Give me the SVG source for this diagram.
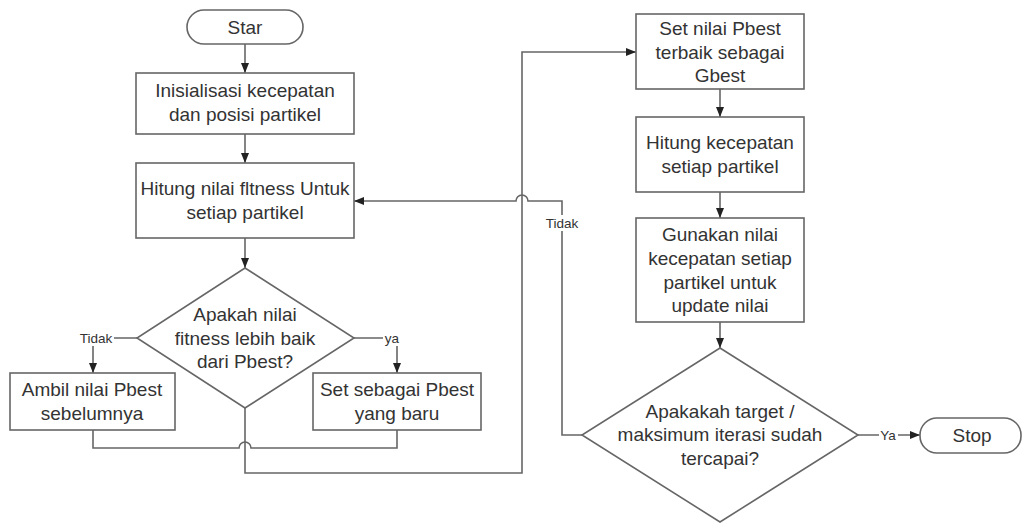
<svg xmlns="http://www.w3.org/2000/svg" width="1024" height="523" viewBox="0 0 1024 523">
<defs>
<marker id="arr" markerUnits="userSpaceOnUse" markerWidth="10" markerHeight="10" viewBox="0 0 10 10" refX="10" refY="5" orient="auto">
<path d="M0,1 L10,5 L0,9 Z" fill="#222"/>
</marker>
</defs>
<style>
.shape{fill:#fff;stroke:#666;stroke-width:1.6}
.t{font-family:"Liberation Sans",Arial,sans-serif;font-size:19px;fill:#333;text-anchor:middle}
.lbl{font-family:"Liberation Sans",Arial,sans-serif;font-size:13.5px;fill:#333;text-anchor:middle}
.c{fill:none;stroke:#666;stroke-width:1.6}
.ca{fill:none;stroke:#666;stroke-width:1.6;marker-end:url(#arr)}
.bg{fill:#fff;stroke:none}
</style>
<rect width="1024" height="523" fill="#fff"/>
<g id="connectors">
<path class="ca" d="M245,44 V73"/>
<path class="ca" d="M245,134 V163"/>
<path class="ca" d="M245,238 V268"/>
<path class="ca" d="M137,338 H93 V373"/>
<path class="ca" d="M354,338 H397 V373"/>
<path class="c" d="M93,430 V448 H239 A6,6 0 0 1 251,448 H397 V430"/>
<path class="ca" d="M245,408 V473 H522 V52 H636"/>
<path class="ca" d="M720,89 V117"/>
<path class="ca" d="M720,192 V218"/>
<path class="ca" d="M720,322 V348"/>
<path class="ca" d="M858,435 H920"/>
<path class="ca" d="M582,435 H562 V201 H528 A6,6 0 0 0 516,201 H354"/>
<rect class="bg" x="78" y="330" width="36" height="16"/>
<text class="lbl" x="96" y="343">Tidak</text>
<rect class="bg" x="383" y="330" width="17" height="16"/>
<text class="lbl" x="392" y="343">ya</text>
<rect class="bg" x="879" y="427" width="19" height="16"/>
<text class="lbl" x="888" y="440">Ya</text>
<rect class="bg" x="544" y="215" width="36" height="16"/>
<text class="lbl" x="562" y="228">Tidak</text>
</g>
<g id="start">
<rect class="shape" x="187" y="10" width="116" height="34" rx="17"/>
<text class="t" x="245" y="34">Star</text>
</g>
<g id="init">
<rect class="shape" x="136" y="73" width="218" height="61"/>
<text class="t" x="245" y="97">Inisialisasi kecepatan</text>
<text class="t" x="245" y="121">dan posisi partikel</text>
</g>
<g id="fitness">
<rect class="shape" x="136" y="163" width="218" height="75"/>
<text class="t" x="245" y="195">Hitung nilai fltness Untuk</text>
<text class="t" x="245" y="219">setiap partikel</text>
</g>
<g id="decision1">
<polygon class="shape" points="245,268 354,338 245,408 137,338"/>
<text class="t" x="245" y="321">Apakah nilai</text>
<text class="t" x="245" y="345">fitness lebih baik</text>
<text class="t" x="245" y="368">dari Pbest?</text>
</g>
<g id="ambil">
<rect class="shape" x="10" y="373" width="165" height="57"/>
<text class="t" x="92" y="396">Ambil nilai Pbest</text>
<text class="t" x="92" y="420">sebelumnya</text>
</g>
<g id="setpbest">
<rect class="shape" x="313" y="373" width="168" height="57"/>
<text class="t" x="397" y="396">Set sebagai Pbest</text>
<text class="t" x="397" y="420">yang baru</text>
</g>
<g id="gbest">
<rect class="shape" x="636" y="14" width="168" height="75"/>
<text class="t" x="720" y="35">Set nilai Pbest</text>
<text class="t" x="720" y="59">terbaik sebagai</text>
<text class="t" x="720" y="82">Gbest</text>
</g>
<g id="velocity">
<rect class="shape" x="636" y="117" width="168" height="75"/>
<text class="t" x="720" y="149">Hitung kecepatan</text>
<text class="t" x="720" y="173">setiap partikel</text>
</g>
<g id="update">
<rect class="shape" x="636" y="218" width="168" height="104"/>
<text class="t" x="720" y="241">Gunakan nilai</text>
<text class="t" x="720" y="265">kecepatan setiap</text>
<text class="t" x="720" y="289">partikel untuk</text>
<text class="t" x="720" y="312">update nilai</text>
</g>
<g id="decision2">
<polygon class="shape" points="720,348 858,435 720,522 582,435"/>
<text class="t" x="720" y="418">Apakakah target /</text>
<text class="t" x="720" y="441">maksimum iterasi sudah</text>
<text class="t" x="720" y="465">tercapai?</text>
</g>
<g id="stop">
<rect class="shape" x="920" y="418" width="101" height="35" rx="17"/>
<text class="t" x="972" y="442">Stop</text>
</g>
</svg>
